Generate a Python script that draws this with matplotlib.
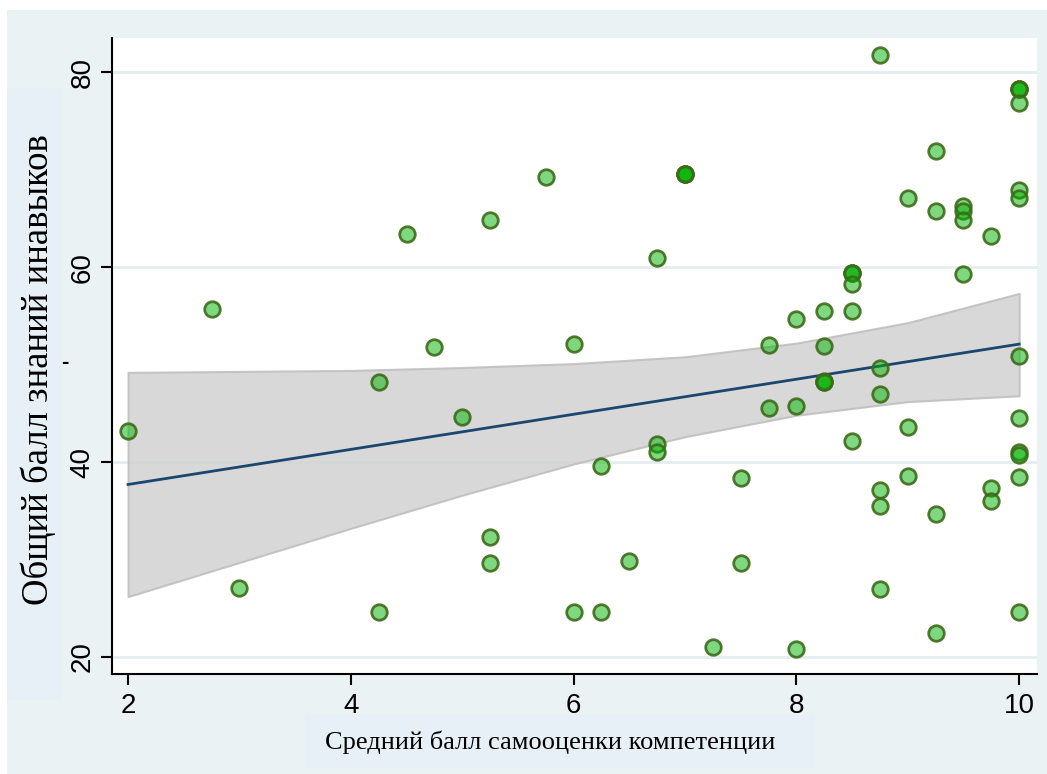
import numpy as np
import matplotlib.pyplot as plt
from matplotlib.patches import Rectangle

#########################################################################################################
#! Data

# self-assessment score (x) and total knowledge/skills score (y), one entry per respondent
x_scores = [2, 2.75, 3, 4.25, 4.25, 4.5, 4.75, 5, 5.25, 5.25, 5.25, 5.75,
            6, 6, 6.25, 6.25, 6.5, 6.75, 6.75, 6.75, 7, 7, 7, 7, 7.25, 7.5, 7.5,
            7.75, 7.75, 8, 8, 8, 8.25, 8.25, 8.25, 8.25, 8.25,
            8.5, 8.5, 8.5, 8.5, 8.5, 8.5, 8.75, 8.75, 8.75, 8.75, 8.75, 8.75,
            9, 9, 9, 9.25, 9.25, 9.25, 9.25, 9.5, 9.5, 9.5, 9.5,
            9.75, 9.75, 9.75, 10, 10, 10, 10, 10, 10, 10, 10, 10, 10, 10, 10]
y_scores = [43.2, 55.7, 27.1, 48.2, 24.6, 63.4, 51.8, 44.6, 64.8, 32.3, 29.6, 69.2,
            52.1, 24.6, 39.6, 24.6, 29.9, 60.9, 41.9, 41.0, 69.6, 69.6, 69.6, 69.6, 21.0, 38.4, 29.6,
            52.0, 45.5, 54.7, 45.7, 20.8, 55.5, 51.9, 48.3, 48.2, 48.2,
            59.4, 59.4, 59.4, 58.3, 55.5, 42.2, 81.8, 49.7, 47.0, 37.1, 35.5, 27.0,
            67.1, 43.6, 38.6, 71.9, 65.8, 34.7, 22.5, 66.3, 65.8, 64.8, 59.3,
            63.2, 37.3, 36.0, 78.3, 78.3, 78.3, 76.8, 67.9, 67.1, 50.9, 44.5, 41.0, 40.7, 38.5, 24.6]

# linear fit with 95% CI band, read at integer x
fit_x     = [2, 3, 4, 5, 6, 7, 8, 9, 10]
fit_y     = [37.7, 39.5, 41.3, 43.1, 44.9, 46.7, 48.5, 50.3, 52.1]
ci_upper  = [49.2, 49.3, 49.4, 49.7, 50.1, 50.8, 52.2, 54.3, 57.3]
ci_lower  = [26.2, 29.7, 33.2, 36.6, 39.8, 42.6, 44.8, 46.2, 46.8]

x_ticks = [2, 4, 6, 8, 10]
y_ticks = [20, 40, 60, 80]

X_LABEL = "Средний балл самооценки компетенции"
Y_LABEL = "Общий балл знаний инавыков"

#! Colours
PANEL_BG  = "#EAF2F3"
LABEL_BG  = "#E8F0F7"
GRID_COL  = "#E4EDEF"
BAND_FILL = "#D2D2D2"
BAND_EDGE = "#BDBDBD"
LINE_COL  = "#1A476F"

#########################################################################################################

plt.rcParams["font.family"] = "sans-serif"
plt.rcParams["font.sans-serif"] = ["Liberation Sans", "DejaVu Sans"]

fig = plt.figure(figsize=(10.47, 7.74), dpi=100)
fig.patch.set_facecolor("white")

# stata-like outer panel
fig.patches.append(Rectangle((7 / 1047, 0), 1 - 7 / 1047, 1 - 10 / 774,
                             transform=fig.transFigure, facecolor=PANEL_BG, edgecolor="none", zorder=-2))
# boxes behind the axis titles
fig.patches.append(Rectangle((7 / 1047, 1 - 700 / 774), 55 / 1047, 612 / 774,
                             transform=fig.transFigure, facecolor=LABEL_BG, edgecolor="none", zorder=-1))
fig.patches.append(Rectangle((305 / 1047, 1 - 768 / 774), 510 / 1047, 53 / 774,
                             transform=fig.transFigure, facecolor=LABEL_BG, edgecolor="none", zorder=-1))

ax = fig.add_axes([112 / 1047, 1 - 674 / 774, (1037 - 112) / 1047, (674 - 38) / 774])
ax.set_zorder(2)
ax.set_facecolor("white")

# grid
for yv in y_ticks:
    ax.axhline(yv, color=GRID_COL, lw=2, zorder=0)

# CI band + fit line
ax.fill_between(fit_x, ci_lower, ci_upper, facecolor=BAND_FILL, edgecolor=BAND_EDGE,
                lw=1.5, alpha=0.85, zorder=1)
ax.plot(fit_x, fit_y, color=LINE_COL, lw=2, zorder=2)

# scatter (semi transparent so stacked points look darker)
ax.scatter(x_scores, y_scores, s=125, facecolor=(0.0, 0.7, 0.0, 0.5),
           edgecolor=(0.24, 0.42, 0.1, 0.9), linewidths=2, zorder=3)

ax.set_xlim(1.856, 10.16)
ax.set_ylim(18.26, 83.5)
ax.set_xticks(x_ticks)
ax.set_yticks(y_ticks)

for side in ["top", "right"]:
    ax.spines[side].set_visible(False)
for side in ["left", "bottom"]:
    ax.spines[side].set_linewidth(1.5)

ax.tick_params(axis="both", direction="out", length=8, width=1.5, labelsize=20)
ax.tick_params(axis="x", pad=6)
ax.tick_params(axis="y", pad=4)
for lbl in ax.get_yticklabels():
    lbl.set_rotation(90)
    lbl.set_va("center")

# axis titles (serif, like the original)
fig.text(550 / 1047, 1 - 742 / 774, X_LABEL, ha="center", va="center",
         fontsize=19, family="Liberation Serif")
fig.text(38 / 1047, 1 - 370 / 774, Y_LABEL, ha="center", va="center", rotation=90,
         fontsize=26.5, family="Liberation Serif")
fig.text(65 / 1047, 1 - 362 / 774, "-", ha="center", va="center", fontsize=16,
         fontweight="bold")

plt.savefig("out.png", dpi=100)
plt.close()
